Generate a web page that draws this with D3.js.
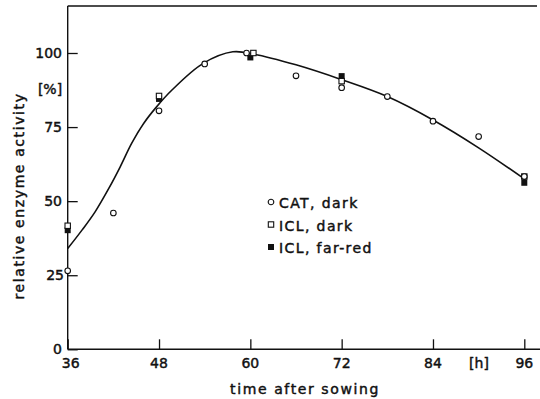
<!DOCTYPE html>
<html>
<head>
<meta charset="utf-8">
<script src="https://cdn.jsdelivr.net/npm/d3@7"></script>
<style>
  body { margin: 0; background: #fff; }
  text { font-family: "DejaVu Sans", sans-serif; fill: #111; stroke: #111; stroke-width: 0.45px; }
</style>
</head>
<body>
<div id="chart"></div>
<script>
// data
const xTicks = [36, 48, 60, 72, 84, 96];
const yTicks = [0, 25, 50, 75, 100];

const catHours = [36, 42, 48, 54, 59.5, 66, 72, 78, 84, 90, 96];
const catValues = [26.5, 46, 80.5, 96.3, 100, 92.3, 88.3, 85.3, 77, 71.8, 58.3];

const iclDarkHours = [36, 48, 60.4, 72, 96];
const iclDarkValues = [41.7, 85.5, 100, 90.5, 58.3];

const iclRedHours = [36, 48, 60, 72, 96];
const iclRedValues = [40.2, 84.5, 98.5, 92.2, 56.2];

// fitted curve drawn by hand in the original
const fitHours = [36, 37.9, 39.6, 41.4, 42.9, 44.4, 46, 47.7, 49.7, 53.8, 57.7, 60.5, 66, 72, 78, 84, 90, 96];
const fitValues = [34, 40.3, 46.4, 54.3, 61.6, 69.5, 76.3, 81.9, 87.5, 96.5, 100.4, 99.6, 96, 91, 85.3, 77.4, 68, 57.5];

const legendLabels = ["CAT, dark", "ICL, dark", "ICL, far-red"];

const width = 540, height = 399;
const plotLeft = 67.7, plotTop = 6, plotBottom = 349.3, plotRight = 537;

const svg = d3.select("#chart").append("svg")
  .attr("width", width)
  .attr("height", height);

const x = d3.scaleLinear().domain([36, 96]).range([plotLeft, 524.3]);
const y = d3.scaleLinear().domain([0, 100]).range([plotBottom, 53]);

// frame: left axis, top line, bottom axis
svg.append("line")
  .attr("x1", plotLeft).attr("x2", plotLeft)
  .attr("y1", plotTop).attr("y2", plotBottom)
  .attr("stroke", "#111").attr("stroke-width", 1.4);
svg.append("line")
  .attr("x1", plotLeft).attr("x2", plotRight)
  .attr("y1", plotTop).attr("y2", plotTop)
  .attr("stroke", "#111").attr("stroke-width", 1.4);
svg.append("line")
  .attr("x1", plotLeft).attr("x2", width)
  .attr("y1", plotBottom).attr("y2", plotBottom)
  .attr("stroke", "#111").attr("stroke-width", 1.4);

// x axis, ticks point inward
const xAxis = d3.axisTop(x).tickValues(xTicks).tickSize(10).tickFormat("");
svg.append("g")
  .attr("transform", "translate(0," + plotBottom + ")")
  .call(xAxis)
  .call(g => g.select(".domain").remove())
  .call(g => g.selectAll("line").attr("stroke", "#111").attr("stroke-width", 1.3));

svg.selectAll(".xlab")
  .data(xTicks)
  .enter().append("text")
  .attr("class", "xlab")
  .attr("x", d => x(d) + (d == 36 ? 3 : 0))
  .attr("y", 368)
  .attr("text-anchor", "middle")
  .attr("font-size", 14)
  .text(d => d);

// y axis, ticks point inward
const yAxis = d3.axisRight(y).tickValues(yTicks).tickSize(10).tickFormat("");
svg.append("g")
  .attr("transform", "translate(" + plotLeft + ",0)")
  .call(yAxis)
  .call(g => g.select(".domain").remove())
  .call(g => g.selectAll("line").attr("stroke", "#111").attr("stroke-width", 1.3));

svg.selectAll(".ylab")
  .data(yTicks)
  .enter().append("text")
  .attr("class", "ylab")
  .attr("x", d => d == 25 ? 64 : 62)
  .attr("y", d => y(d) + 5)
  .attr("text-anchor", "end")
  .attr("font-size", 14)
  .text(d => d);

// units
svg.append("text")
  .attr("x", 50).attr("y", 94)
  .attr("text-anchor", "middle")
  .attr("font-size", 14)
  .text("[%]");
svg.append("text")
  .attr("x", 479).attr("y", 368)
  .attr("text-anchor", "middle")
  .attr("font-size", 14)
  .text("[h]");

// axis titles
svg.append("text")
  .attr("x", 305).attr("y", 394)
  .attr("text-anchor", "middle")
  .attr("font-size", 14)
  .attr("letter-spacing", 1.6)
  .text("time after sowing");
svg.append("text")
  .attr("transform", "translate(24,196) rotate(-90)")
  .attr("text-anchor", "middle")
  .attr("font-size", 14)
  .attr("letter-spacing", 1.6)
  .text("relative enzyme activity");

// fitted curve
const fit = fitHours.map((h, i) => [h, fitValues[i]]);
const line = d3.line()
  .x(d => x(d[0]))
  .y(d => y(d[1]))
  .curve(d3.curveCatmullRom.alpha(0.5));
svg.append("path")
  .datum(fit)
  .attr("fill", "none")
  .attr("stroke", "#111")
  .attr("stroke-width", 1.6)
  .attr("d", line);

// points
const cat = catHours.map((h, i) => [h, catValues[i]]);
const iclDark = iclDarkHours.map((h, i) => [h, iclDarkValues[i]]);
const iclRed = iclRedHours.map((h, i) => [h, iclRedValues[i]]);

svg.selectAll(".red")
  .data(iclRed)
  .enter().append("rect")
  .attr("x", d => x(d[0]) - 3).attr("y", d => y(d[1]) - 3)
  .attr("width", 6).attr("height", 6)
  .attr("fill", "#111");

svg.selectAll(".dark")
  .data(iclDark)
  .enter().append("rect")
  .attr("x", d => x(d[0]) - 2.7).attr("y", d => y(d[1]) - 2.7)
  .attr("width", 5.4).attr("height", 5.4)
  .attr("fill", "#fff").attr("stroke", "#111").attr("stroke-width", 1.1);

svg.selectAll(".cat")
  .data(cat)
  .enter().append("circle")
  .attr("cx", d => x(d[0])).attr("cy", d => y(d[1]))
  .attr("r", 2.8)
  .attr("fill", "#fff").attr("stroke", "#111").attr("stroke-width", 1.1);

// legend
const legend = svg.selectAll(".leg")
  .data(legendLabels)
  .enter().append("g")
  .attr("transform", (d, i) => "translate(271," + (202 + i * 22.5) + ")");
legend.each(function (d, i) {
  const g = d3.select(this);
  if (i == 0) {
    g.append("circle").attr("r", 2.8).attr("fill", "#fff").attr("stroke", "#111").attr("stroke-width", 1.1);
  } else if (i == 1) {
    g.append("rect").attr("x", -2.7).attr("y", -2.7).attr("width", 5.4).attr("height", 5.4)
      .attr("fill", "#fff").attr("stroke", "#111").attr("stroke-width", 1.1);
  } else {
    g.append("rect").attr("x", -3).attr("y", -3).attr("width", 6).attr("height", 6).attr("fill", "#111");
  }
  g.append("text")
    .attr("x", 8).attr("y", 6)
    .attr("font-size", 14)
    .attr("letter-spacing", 1.4)
    .text(d);
});
</script>
</body>
</html>
